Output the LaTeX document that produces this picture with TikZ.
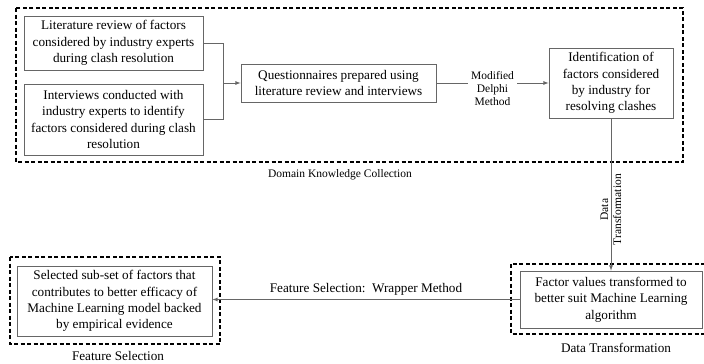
\documentclass[tikz,border=0pt]{standalone}
\usepackage{fontspec}
\setmainfont{Liberation Serif}
\usetikzlibrary{positioning, arrows}

\begin{document}
\begin{tikzpicture}[x=1pt, y=-1pt,
    box/.style={draw=black!60, line width=0.8pt, align=center, inner sep=0pt, font=\fontsize{13.2}{16.3}\selectfont},
    group/.style={draw, line width=1.3pt, dash pattern=on 4pt off 2.5pt},
    link/.style={draw=black!60, line width=0.8pt},
    tag/.style={font=\fontsize{11.5}{13}\selectfont, align=center}]
    \useasboundingbox (0,0) rectangle (704,364);
    \draw[group] (16,8) rectangle (683,162);
    \draw[group] (511,264) rectangle (707,334);
    \draw[group] (10,257) rectangle (220,344);
    \node[box, minimum width=179pt, minimum height=54pt] (lit) at (113.5,43)
      {Literature review of factors\\considered by industry experts\\during clash resolution};
    \node[box, minimum width=179pt, minimum height=71pt] (intv) at (113.5,119.5)
      {Interviews conducted with\\industry experts to identify\\factors considered during clash\\resolution};
    \node[box, minimum width=195pt, minimum height=38pt] (quest) at (338.5,83)
      {Questionnaires prepared using\\literature review and interviews};
    \node[box, minimum width=124pt, minimum height=70pt] (ident) at (611,83)
      {Identification of\\factors considered\\by industry for\\resolving clashes};
    \node[box, minimum width=182pt, minimum height=57pt] (trans) at (611,299.5)
      {Factor values transformed to\\better suit Machine Learning\\algorithm};
    \node[box, minimum width=195pt, minimum height=70pt] (subset) at (114.5,301)
      {Selected sub-set of factors that\\contributes to better efficacy of\\Machine Learning model backed\\by empirical evidence};
    \coordinate (join) at (223,83);
    \draw[link] (lit.east) -| (join);
    \draw[link] (intv.east) -| (join);
    \draw[link, -latex] (join) -- (quest.west);
    \draw[link, -latex] (quest.east) -- node[tag, fill=white, yshift=-6pt] {Modified\\Delphi\\Method} (ident.west);
    \draw[link, -latex] (ident.south) -- node[tag, pos=0.6, rotate=90] {Data\\Transformation} (ident.south |- trans.north);
    \draw[link, -latex] (trans.west) -- node[tag, above, font=\fontsize{13.2}{15}\selectfont] {Feature Selection:\, Wrapper Method} (trans.west -| subset.east);
    \node[tag] (domain) at (340,175) {Domain Knowledge Collection};
    \node[tag, font=\fontsize{13.2}{15}\selectfont] (translbl) at (616,348) {Data Transformation};
    \node[tag, font=\fontsize{13.2}{15}\selectfont] (featlbl) at (118,356) {Feature Selection};
\end{tikzpicture}
\end{document}
